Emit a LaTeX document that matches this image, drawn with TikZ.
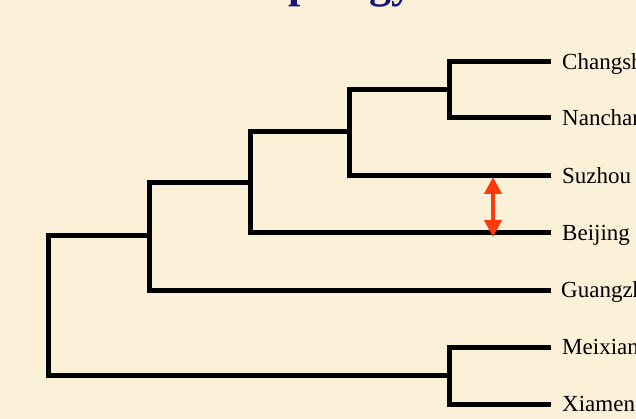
\documentclass[tikz,border=0pt]{standalone}
\usepackage{fontspec}
\setmainfont{Liberation Serif}
\usetikzlibrary{arrows.meta}
\definecolor{paper}{HTML}{FBF0D8}
\definecolor{titleblue}{HTML}{14147A}
\definecolor{arrowred}{HTML}{FF3A0A}
\tikzset{
  branch/.style={line width=5pt, line cap=rect, black},
  leaf/.style={anchor=base west, inner sep=0pt, font=\fontsize{23}{25}\selectfont},
  diffarrow/.style={line width=4pt, arrowred, {Triangle[width=17pt,length=17pt]}-{Triangle[width=17pt,length=17pt]}, shorten <=-1pt, shorten >=-1pt}
}
\begin{document}
\begin{tikzpicture}[x=1pt,y=-1pt]
\useasboundingbox (0,0) rectangle (636,419);
\fill[paper] (0,0) rectangle (636,419);
\clip (0,0) rectangle (636,419);
% title (mostly cropped)
\node[anchor=base west, inner sep=0pt, text=titleblue, font=\fontsize{44}{48}\selectfont\bfseries] (title) at (241,-2.5) {Topology};
% leaf line ends
\coordinate (lChangsha) at (548,62);
\coordinate (lNanchang) at (548,118);
\coordinate (lSuzhou) at (548,176);
\coordinate (lBeijing) at (548,233);
\coordinate (lGuangzhou) at (548,290);
\coordinate (lMeixian) at (548,347);
\coordinate (lXiamen) at (548,404);
% leaf labels
\node[leaf] (tChangsha) at (562,70) {Changsha};
\node[leaf] (tNanchang) at (562,126) {Nanchang};
\node[leaf] (tSuzhou) at (562,183.5) {Suzhou};
\node[leaf] (tBeijing) at (562,240.5) {Beijing};
\node[leaf] (tGuangzhou) at (561,297.5) {Guangzhou};
\node[leaf] (tMeixian) at (562,354.5) {Meixian};
\node[leaf] (tXiamen) at (562,411.5) {Xiamen};
% internal nodes
\coordinate (nA) at (449,90);
\coordinate (nB) at (349,132);
\coordinate (nC) at (250,183);
\coordinate (nD) at (149,236);
\coordinate (nE) at (449,375);
\coordinate (root) at (48,305);
% branches
\draw[branch] (lChangsha) -| (nA) |- (lNanchang);
\draw[branch] (nA) -| (nB) |- (lSuzhou);
\draw[branch] (nB) -| (nC) |- (lBeijing);
\draw[branch] (nC) -| (nD) |- (lGuangzhou);
\draw[branch] (lMeixian) -| (nE) |- (lXiamen);
\draw[branch] (nD) -| (root) |- (nE);
% difference arrow
\coordinate (aTop) at (493,178);
\coordinate (aBot) at (493,236);
\draw[diffarrow] (aTop) -- (aBot);
\end{tikzpicture}
\end{document}
